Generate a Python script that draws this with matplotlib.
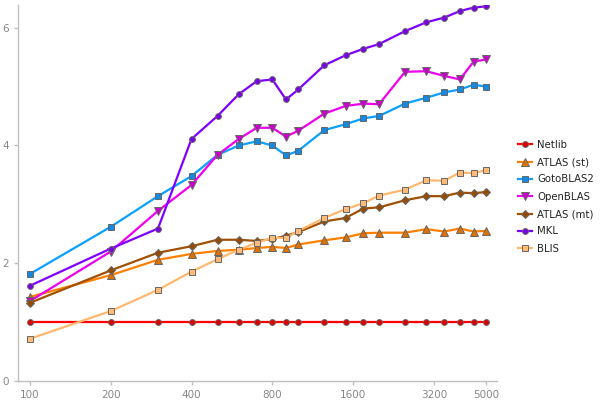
import matplotlib
matplotlib.use("Agg")
import matplotlib.pyplot as plt
from matplotlib.ticker import NullLocator

x = [100, 200, 300, 400, 500, 600, 700, 800, 900, 1000, 1250, 1500, 1750, 2000, 2500, 3000, 3500, 4000, 4500, 5000]

netlib = [1.0] * 20
atlas_st = [1.43, 1.80, 2.06, 2.16, 2.21, 2.23, 2.26, 2.28, 2.26, 2.32, 2.39, 2.44, 2.51, 2.52, 2.52, 2.58, 2.54, 2.59, 2.54, 2.55]
goto = [1.82, 2.62, 3.14, 3.48, 3.84, 4.00, 4.07, 4.00, 3.83, 3.91, 4.26, 4.36, 4.46, 4.50, 4.71, 4.81, 4.90, 4.95, 5.03, 5.00]
openblas = [1.36, 2.20, 2.89, 3.33, 3.84, 4.11, 4.30, 4.30, 4.15, 4.25, 4.54, 4.67, 4.71, 4.70, 5.25, 5.26, 5.18, 5.12, 5.42, 5.46]
atlas_mt = [1.33, 1.88, 2.18, 2.29, 2.40, 2.40, 2.38, 2.41, 2.47, 2.53, 2.71, 2.77, 2.93, 2.95, 3.07, 3.14, 3.14, 3.20, 3.19, 3.21]
mkl = [1.62, 2.25, 2.59, 4.11, 4.50, 4.87, 5.09, 5.12, 4.78, 4.95, 5.36, 5.53, 5.64, 5.72, 5.94, 6.09, 6.17, 6.28, 6.34, 6.36]
blis = [0.72, 1.19, 1.55, 1.86, 2.07, 2.23, 2.35, 2.43, 2.43, 2.55, 2.77, 2.92, 3.02, 3.15, 3.25, 3.41, 3.40, 3.54, 3.53, 3.58]

labels = ["Netlib", "ATLAS (st)", "GotoBLAS2", "OpenBLAS", "ATLAS (mt)", "MKL", "BLIS"]
xticks = [100, 200, 400, 800, 1600, 3200, 5000]
yticks = [0, 2, 4, 6]

series = [netlib, atlas_st, goto, openblas, atlas_mt, mkl, blis]
line_colors = ["#ff0000", "#ff8000", "#0aa0ff", "#ee00ee", "#a05000", "#7f00ff", "#ffb86e"]
marker_colors = ["#dd0000", "#e07000", "#1688dd", "#cc00cc", "#964b00", "#7a00e6", "#ffbb77"]
markers = ["o", "^", "s", "v", "D", "o", "s"]
msizes = [4.2, 5.2, 4.2, 5.2, 4.0, 4.2, 4.2]

fig = plt.figure(figsize=(6, 4), dpi=100)
ax = fig.add_axes([0.0295, 0.047, 0.798, 0.94])

for ys, lc, mc, mk, ms, lab in zip(series, line_colors, marker_colors, markers, msizes, labels):
    ax.plot(x, ys, color=lc, lw=1.6, marker=mk, markersize=ms, markerfacecolor=mc,
            markeredgecolor="#666666", markeredgewidth=0.7, label=lab)

ax.set_xscale("log")
ax.set_xlim(90, 5480)
ax.set_ylim(0, 6.38)
ax.set_xticks(xticks)
ax.set_xticklabels([str(t) for t in xticks])
ax.xaxis.set_minor_locator(NullLocator())
ax.set_yticks(yticks)
ax.set_yticklabels([str(t) for t in yticks])

for s in ["top", "right"]:
    ax.spines[s].set_visible(False)
for s in ["left", "bottom"]:
    ax.spines[s].set_color("#c0c0c0")
    ax.spines[s].set_linewidth(1)
ax.tick_params(axis="both", colors="#c0c0c0", labelcolor="#888888", labelsize=7.5, length=3, width=1)
ax.tick_params(axis="y", pad=3)

leg = fig.legend(loc="center left", bbox_to_anchor=(0.855, 0.508), frameon=False,
                 fontsize=7.3, handlelength=1.4, handletextpad=0.5, labelspacing=0.72,
                 borderpad=0)
for t in leg.get_texts():
    t.set_color("#222222")

fig.savefig("out.png", dpi=100)
